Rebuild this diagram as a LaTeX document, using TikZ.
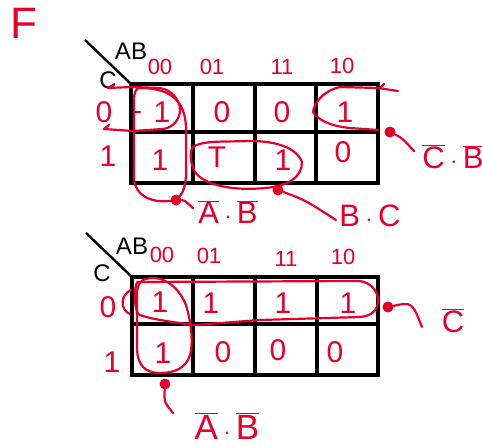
\documentclass[tikz,border=0pt]{standalone}
\usepackage{fontspec}
\setsansfont{Liberation Sans}
\definecolor{hred}{RGB}{228,0,43}
\begin{document}
\begin{tikzpicture}[x=1pt,y=-1pt,
  gridline/.style={line width=3.2pt, black, line cap=rect},
  diag/.style={line width=2.4pt, black},
  hloop/.style={draw=hred, line width=2.2pt, line cap=round, line join=round},
  digit/.style={text=hred, font=\sffamily\fontsize{30}{30}\selectfont, inner sep=0pt},
  collab/.style={text=hred, font=\sffamily\fontsize{22}{22}\selectfont, inner sep=0pt},
  varlab/.style={text=black, font=\sffamily\fontsize{24}{24}\selectfont, inner sep=0pt},
  term/.style={text=hred, font=\fontsize{31}{31}\selectfont, inner sep=0pt},
  blob/.style={circle, fill=hred, minimum size=11pt, inner sep=0pt}]
\useasboundingbox (0,0) rectangle (482,447);

% title
\node[text=hred, font=\sffamily\fontsize{44}{44}\selectfont, inner sep=0pt] (F) at (24,23) {F};

%%%%%%%%%%%%%%%% TOP MAP
\draw[gridline] (131,84) rectangle (378,183);
\draw[gridline] (131,132) -- (378,132);
\foreach \x in {193,255,316} \draw[gridline] (\x,84) -- (\x,183);
\draw[diag] (85,40) -- (131,84);
\node[varlab] (tAB) at (131,51) {AB};
\node[varlab] (tC) at (108,80) {C};

\node[collab] (tc00) at (160,67) {00};
\node[collab] (tc01) at (212,67) {01};
\node[collab] (tc11) at (282,67) {11};
\node[collab] (tc10) at (342,66) {10};
\node[digit] (tr0) at (104,112) {0};
\node[digit] (tr1) at (108,156) {1};

\node[digit] (ta0) at (162,112) {1};
\node[digit] (tb0) at (222,112) {0};
\node[digit] (tcc0) at (282,112) {0};
\node[digit] (td0) at (345,112) {1};
\node[digit] (ta1) at (160,160) {1};
\node[digit] (tb1) at (217,157) {T};
\node[digit] (tcc1) at (283,160) {1};
\node[digit] (td1) at (343,152) {0};

% loops top
\draw[hloop] (140,88) .. controls (175,88) and (186,105) .. (186,130) -- (186,175)
  .. controls (185,195) and (178,200) .. (170,201) .. controls (150,203) and (136,195) .. (134,180)
  -- (134,100) .. controls (134,92) and (136,88) .. (140,88);
\draw[hloop] (108,88) -- (131,87) -- (160,88) .. controls (172,90) and (180,100) .. (180,110)
  .. controls (180,120) and (172,128) .. (163,129) -- (133,131) -- (104,129);
\draw[hloop] (108,88) -- (113,85);
\draw[hloop] (104,129) -- (109,125);
\draw[hloop] (135,112) -- (140,112);
\draw[hloop] (398,91) -- (378,88) -- (340,87) .. controls (325,90) and (314,102) .. (313,112)
  .. controls (318,120) and (330,126) .. (350,128) -- (378,130);
\draw[hloop] (380,88) -- (384,84);
\draw[hloop] (192,148) .. controls (200,140) and (225,142) .. (250,141)
  .. controls (275,141) and (296,147) .. (302,162) .. controls (302,176) and (290,186) .. (265,188)
  .. controls (235,191) and (205,186) .. (195,172) .. controls (190,163) and (190,153) .. (192,148);

% pointers top
\node[blob] (tb1blob) at (176,200) {};
\coordinate (tb1tail) at (193,208);
\draw[hloop] (tb1blob) .. controls (184,200) .. (tb1tail);
\node[term] (tAB1) at (228,212) {$\overline{\mathsf{A}}\cdot\overline{\mathsf{B}}$};

\node[blob] (tb2blob) at (278,190) {};
\coordinate (tb2tail) at (336,220);
\draw[hloop] (tb2blob) .. controls (305,200) .. (tb2tail);
\node[term] (tBC) at (370,216) {$\mathsf{B}\cdot\mathsf{C}$};

\node[blob] (tb3blob) at (390,132) {};
\coordinate (tb3tail) at (414,151);
\draw[hloop] (tb3blob) .. controls (402,138) .. (tb3tail);
\node[term] (tCB) at (453,157) {$\overline{\mathsf{C}}\cdot\overline{\mathsf{B}}$};

%%%%%%%%%%%%%%%% BOTTOM MAP
\draw[gridline] (132,277) rectangle (378,375);
\draw[gridline] (132,324) -- (378,324);
\foreach \x in {193,255,317} \draw[gridline] (\x,277) -- (\x,375);
\draw[diag] (86,233) -- (132,277);
\node[varlab] (bAB) at (132,246) {AB};
\node[varlab] (bC) at (102,273) {C};

\node[collab] (bc00) at (162,255) {00};
\node[collab] (bc01) at (209,256) {01};
\node[collab] (bc11) at (286,259) {11};
\node[collab] (bc10) at (343,257) {10};
\node[digit] (br0) at (108,307) {0};
\node[digit] (br1) at (112,362) {1};

\node[digit] (ba0) at (160,302) {1};
\node[digit] (bb0) at (211,303) {1};
\node[digit] (bcc0) at (283,303) {1};
\node[digit] (bd0) at (348,303) {1};
\node[digit] (ba1) at (163,353) {1};
\node[digit] (bb1) at (223,352) {0};
\node[digit] (bcc1) at (278,350) {0};
\node[digit] (bd1) at (335,352) {0};

% loops bottom
\draw[hloop] (137,282) -- (360,281) .. controls (372,283) and (378,292) .. (378,300)
  .. controls (378,310) and (372,316) .. (360,317) -- (260,320) -- (195,325)
  .. controls (170,322) and (145,318) .. (138,314) .. controls (134,305) and (134,290) .. (137,282);
\draw[hloop] (143,280) .. controls (160,273) and (178,285) .. (186,305)
  .. controls (192,325) and (193,345) .. (190,355) .. controls (186,368) and (175,373) .. (160,373)
  .. controls (145,373) and (138,365) .. (137,350) -- (137,295) .. controls (137,287) and (139,282) .. (143,280);
\draw[hloop] (131,290) .. controls (120,295) and (120,310) .. (130,314);

% pointers bottom
\node[blob] (bb1blob) at (388,307) {};
\coordinate (bb1tail) at (422,327);
\draw[hloop] (bb1blob) .. controls (412,302) .. (bb1tail);
\node[term] (bCbar) at (453,321) {$\overline{\mathsf{C}}$};

\node[blob] (bb2blob) at (165,384) {};
\coordinate (bb2tail) at (173,413);
\draw[hloop] (bb2blob) .. controls (164,402) .. (bb2tail);
\node[term, font=\fontsize{35}{35}\selectfont] (bAB1) at (227,426) {$\overline{\mathsf{A}}\cdot\overline{\mathsf{B}}$};
\end{tikzpicture}
\end{document}
